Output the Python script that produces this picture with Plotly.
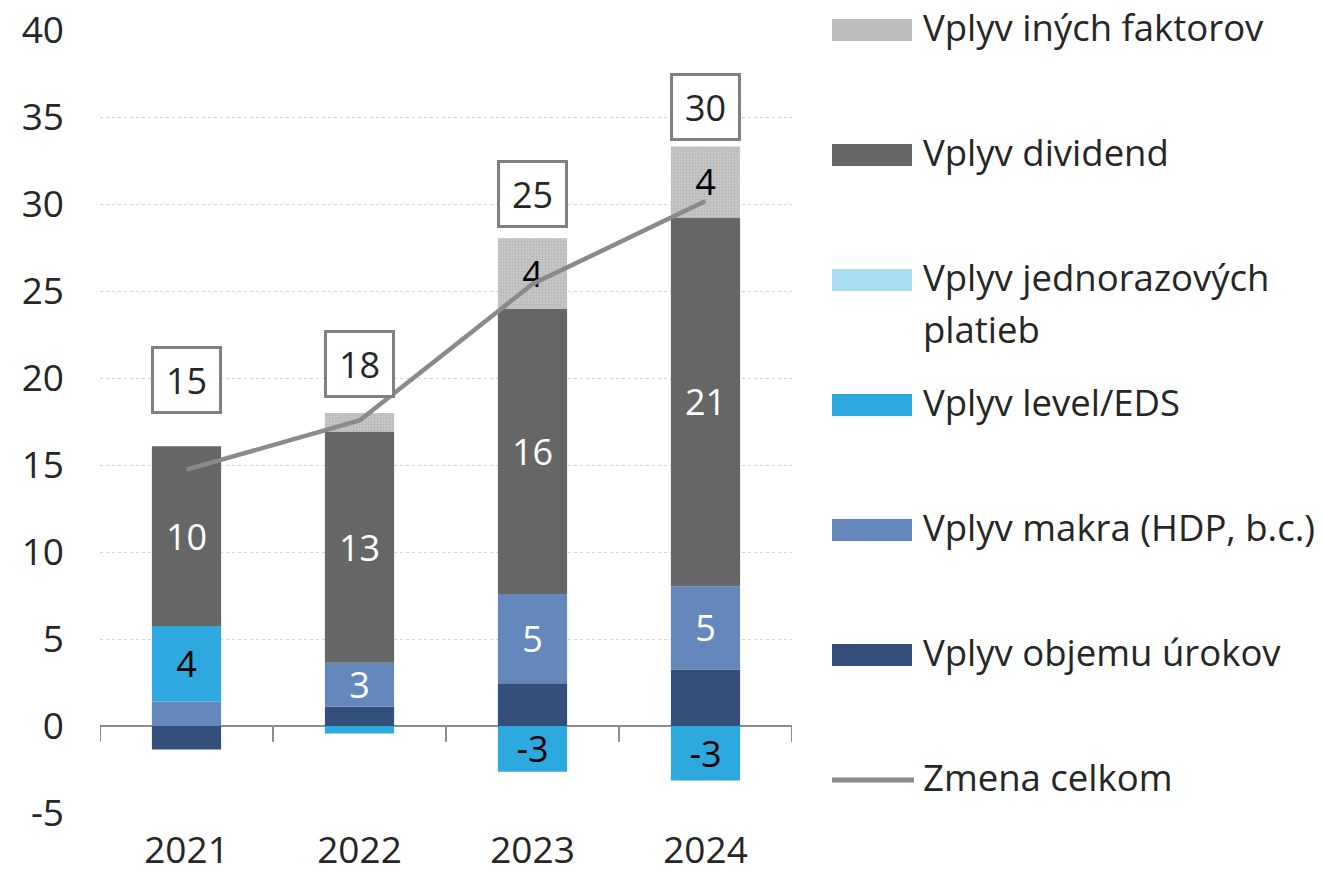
import plotly.graph_objects as go

# Contributions to the yearly change (stacked), and the total change line
years = ["2021", "2022", "2023", "2024"]
objem_urokov = [-1.35, 1.10, 2.46, 3.25]
makro = [1.41, 2.53, 5.13, 4.78]
level_eds = [4.33, -0.43, -2.63, -3.13]
jednorazove = [0.0, 0.0, 0.0, 0.0]
dividendy = [10.34, 13.30, 16.38, 21.20]
ine_faktory = [0.0, 1.06, 4.06, 4.07]
zmena_celkom = [14.73, 17.56, 25.40, 30.17]

y_tick_values = [-5, 0, 5, 10, 15, 20, 25, 30, 35, 40]
y_tick_labels = ["-5", "0", "5", "10", "15", "20", "25", "30", "35", "40"]

legend_names = [
    "Vplyv iných faktorov",
    "Vplyv dividend",
    "Vplyv jednorazových platieb",
    "Vplyv level/EDS",
    "Vplyv makra (HDP, b.c.)",
    "Vplyv objemu úrokov",
    "Zmena celkom",
]

FONT = "Open Sans"
TXT = "#262626"
C_OBJEM = "#34507a"
C_MAKRO = "#6488bb"
C_LEVEL = "#2ea9df"
C_JEDNO = "#a8dcf1"
C_DIV = "#666666"
C_INE = "#bdbdbd"
C_LINE = "#8a8a8a"

W, H = 1322, 885
ML, MR, MT, MB = 100, 530, 30, 72
PW, PH = W - ML - MR, H - MT - MB


def fx(px):
    return (px - ML) / PW


def fy(py):
    return (H - MB - py) / PH


def labels(vals, show=True):
    if not show:
        return ["" for _ in vals]
    return [f"{v:.0f}" if abs(v) >= 2.5 else "" for v in vals]


fig = go.Figure()

series = [
    ("Vplyv objemu úrokov", objem_urokov, dict(color=C_OBJEM), False, "white"),
    ("Vplyv makra (HDP, b.c.)", makro, dict(color=C_MAKRO), True, "white"),
    ("Vplyv level/EDS", level_eds, dict(color=C_LEVEL), True, "black"),
    ("Vplyv jednorazových platieb", jednorazove, dict(color=C_JEDNO), True, "black"),
    ("Vplyv dividend", dividendy, dict(color=C_DIV), True, "white"),
    ("Vplyv iných faktorov", ine_faktory,
     dict(color=C_INE, pattern=dict(shape=".", bgcolor="#c6c6c6",
                                    fgcolor="#a4a4a4", size=3, solidity=0.35)),
     True, "black"),
]

for name, vals, marker, show, tcol in series:
    fig.add_trace(go.Bar(
        x=years, y=vals, name=name, marker=dict(line=dict(width=0), **marker),
        text=labels(vals, show), textposition="inside",
        insidetextanchor="middle", textangle=0, constraintext="none",
        textfont=dict(family=FONT, size=36, color=tcol),
        showlegend=False,
    ))

fig.add_trace(go.Scatter(
    x=years, y=zmena_celkom, name="Zmena celkom", mode="lines",
    line=dict(color=C_LINE, width=4.5), showlegend=False,
))

# boxed totals above the bars
box_y = [19.86, 20.8, 30.6, 35.6]
for i, (v, by) in enumerate(zip(zmena_celkom, box_y)):
    fig.add_annotation(
        x=i, y=by, xref="x", yref="y", text=f"{v:.0f}", showarrow=False,
        font=dict(family=FONT, size=36, color=TXT),
        bgcolor="white", bordercolor="#808080", borderwidth=3, borderpad=2,
        width=61, height=58, xanchor="center", yanchor="middle",
    )

shapes = []
# zero axis line and category separators
shapes.append(dict(type="line", xref="x", yref="y", x0=-0.5, x1=3.5, y0=0, y1=0,
                   line=dict(color="#8c8c8c", width=2), layer="between"))
for i in range(len(years) + 1):
    shapes.append(dict(type="line", xref="x", yref="y", x0=i - 0.5, x1=i - 0.5,
                       y0=0, y1=-0.9, line=dict(color="#8c8c8c", width=2),
                       layer="between"))

# legend drawn by hand
rows = [30, 155, 280, 405, 530, 655, 780]
swatch_cols = [C_INE, C_DIV, C_JEDNO, C_LEVEL, C_MAKRO, C_OBJEM]
for py, col in zip(rows[:-1], swatch_cols):
    shapes.append(dict(type="rect", xref="paper", yref="paper",
                       x0=fx(832), x1=fx(912), y0=fy(py + 11), y1=fy(py - 11),
                       fillcolor=col, line=dict(width=0)))
shapes.append(dict(type="line", xref="paper", yref="paper",
                   x0=fx(832), x1=fx(914), y0=fy(rows[-1]), y1=fy(rows[-1]),
                   line=dict(color=C_LINE, width=5)))

legend_lines = [
    (legend_names[0], rows[0]),
    (legend_names[1], rows[1]),
    ("Vplyv jednorazových", rows[2]),
    ("platieb", rows[2] + 52),
    (legend_names[3], rows[3]),
    (legend_names[4], rows[4]),
    (legend_names[5], rows[5]),
    (legend_names[6], rows[6]),
]
for txt, py in legend_lines:
    fig.add_annotation(x=fx(921), y=fy(py - 3), xref="paper", yref="paper",
                       text=txt, showarrow=False, xanchor="left", yanchor="middle",
                       font=dict(family=FONT, size=36.5, color=TXT))

fig.update_layout(
    width=W, height=H, barmode="relative", bargap=0.6,
    margin=dict(l=ML, r=MR, t=MT, b=MB, autoexpand=False),
    plot_bgcolor="white", paper_bgcolor="white",
    font=dict(family=FONT, size=36, color=TXT),
    shapes=shapes,
)
fig.update_xaxes(type="category", range=[-0.5, 3.5], showline=False, ticks="",
                 showgrid=False, tickfont=dict(size=37, color=TXT),
                 ticklabelstandoff=12, automargin=False)
fig.update_yaxes(range=[-5, 40], tickmode="array", tickvals=y_tick_values,
                 ticktext=y_tick_labels, showline=False, zeroline=False,
                 gridcolor="#d4d4d4", griddash="dot", gridwidth=1,
                 tickfont=dict(size=37, color=TXT), ticklabelstandoff=35,
                 automargin=False)

fig.write_html("out.html")
